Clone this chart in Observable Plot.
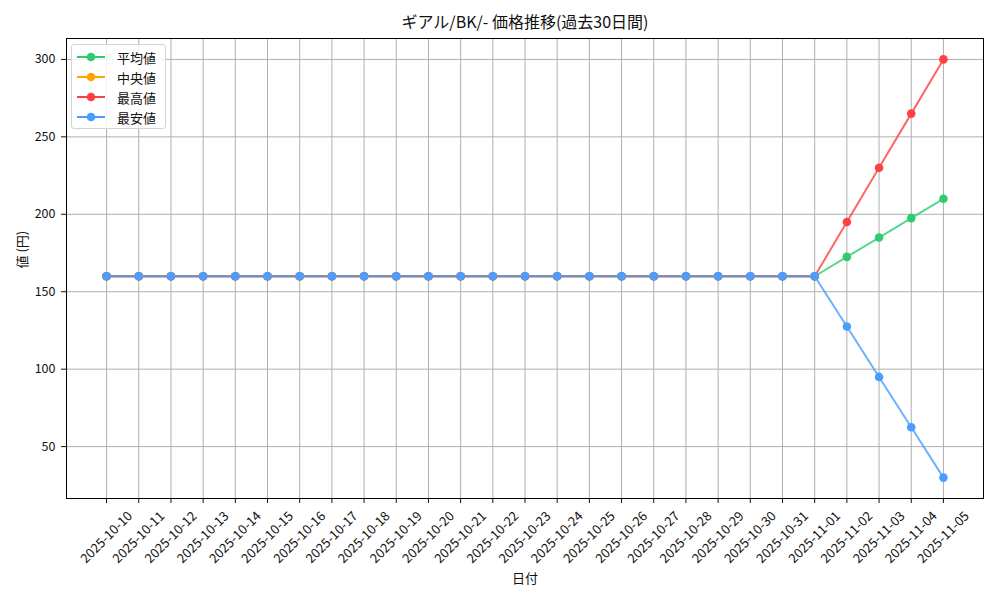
<!DOCTYPE html>
<html>
<head>
<meta charset="utf-8">
<script src="https://cdn.jsdelivr.net/npm/d3@7"></script>
<script src="https://cdn.jsdelivr.net/npm/@observablehq/plot@0.6"></script>
<style>
  html, body { margin: 0; padding: 0; background: #fff; }
  #wrap { position: relative; width: 1000px; height: 600px; font-family: "Noto Sans CJK JP", sans-serif; }
  #legend { position: absolute; left: 71px; top: 44px; width: 93px; height: 83px; border: 1px solid #d4d4d4; border-radius: 3px; background: rgba(255,255,255,0.85); box-sizing: content-box; }
  .item { position: absolute; left: 4px; height: 20px; display: flex; align-items: center; font-size: 13px; color: #111; }
  .item svg { margin-right: 11px; }
</style>
</head>
<body>
<div id="wrap"></div>
<script>
const title = "ギアル/BK/- 価格推移(過去30日間)";
const xLabel = "日付";
const yLabel = "値 (円)";
const dates = ["2025-10-10","2025-10-11","2025-10-12","2025-10-13","2025-10-14","2025-10-15","2025-10-16","2025-10-17","2025-10-18","2025-10-19","2025-10-20","2025-10-21","2025-10-22","2025-10-23","2025-10-24","2025-10-25","2025-10-26","2025-10-27","2025-10-28","2025-10-29","2025-10-30","2025-10-31","2025-11-01","2025-11-02","2025-11-03","2025-11-04","2025-11-05"];
const seriesNames = ["平均値", "中央値", "最高値", "最安値"];
const seriesColors = ["#2ecc71", "#ffa500", "#ff4040", "#4a9eff"];
const meanValues   = [160,160,160,160,160,160,160,160,160,160,160,160,160,160,160,160,160,160,160,160,160,160,160,172.5,185,197.5,210];
const medianValues = [160,160,160,160,160,160,160,160,160,160,160,160,160,160,160,160,160,160,160,160,160,160,160,null,null,null,null];
const maxValues    = [160,160,160,160,160,160,160,160,160,160,160,160,160,160,160,160,160,160,160,160,160,160,160,195,230,265,300];
const minValues    = [160,160,160,160,160,160,160,160,160,160,160,160,160,160,160,160,160,160,160,160,160,160,160,127.5,95,62.5,30];
const yTicks = [50, 100, 150, 200, 250, 300];

const seriesValues = [meanValues, medianValues, maxValues, minValues];
const seriesData = seriesNames.map((name, i) =>
  dates.map((d, j) => ({date: d, value: seriesValues[i][j], series: name})).filter(r => r.value != null)
);

const font = "Noto Sans CJK JP, sans-serif";
const seriesMarks = seriesData.flatMap((rows, i) => [
  Plot.lineY(rows, {x: "date", y: "value", stroke: seriesColors[i], strokeWidth: 2, strokeOpacity: 0.8}),
  Plot.dot(rows, {x: "date", y: "value", fill: seriesColors[i], r: 4.3, stroke: "none"})
]);

const chart = Plot.plot({
  width: 1000,
  height: 600,
  marginLeft: 66,
  marginRight: 17,
  marginTop: 38,
  marginBottom: 102,
  style: {fontFamily: font, fontSize: "12px", background: "white", color: "#111"},
  x: {type: "point", domain: dates, padding: 1.245, round: false},
  y: {domain: [16.5, 313.5]},
  marks: [
    Plot.gridX(dates, {stroke: "#b0b0b0", strokeOpacity: 1, strokeWidth: 1}),
    Plot.gridY(yTicks, {stroke: "#b0b0b0", strokeOpacity: 1, strokeWidth: 1}),
    Plot.axisY(yTicks, {tickSize: 5, tickPadding: 6, label: null, fontSize: 12.5}),
    Plot.axisX(dates, {tickSize: 5, tickFormat: () => "", label: null}),
    Plot.text(dates, {x: d => d, frameAnchor: "bottom", dy: 39, rotate: -45, textAnchor: "middle", lineAnchor: "middle", fontSize: 13}),
    ...seriesMarks,
    Plot.frame({stroke: "black", strokeWidth: 1}),
    Plot.text([title], {frameAnchor: "top", dy: -16, fontSize: 16, lineAnchor: "middle"}),
    Plot.text([xLabel], {frameAnchor: "bottom", dy: 80, fontSize: 13, lineAnchor: "middle"}),
    Plot.text([yLabel], {frameAnchor: "left", dx: -44, rotate: -90, fontSize: 13, lineAnchor: "middle"})
  ]
});

const wrap = document.getElementById("wrap");
wrap.appendChild(chart);

const legend = document.createElement("div");
legend.id = "legend";
seriesNames.forEach((name, i) => {
  const item = document.createElement("div");
  item.className = "item";
  item.style.top = (2 + i * 20) + "px";
  item.innerHTML = `<svg width="30" height="12"><line x1="1" y1="6" x2="29" y2="6" stroke="${seriesColors[i]}" stroke-width="2"/><circle cx="15" cy="6" r="4.3" fill="${seriesColors[i]}"/></svg><span>${name}</span>`;
  legend.appendChild(item);
});
wrap.appendChild(legend);
</script>
</body>
</html>
